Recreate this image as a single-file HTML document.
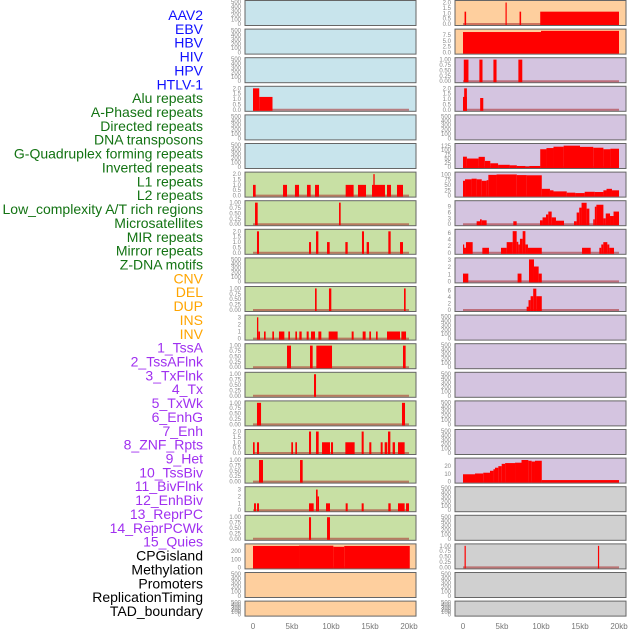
<!DOCTYPE html>
<html><head><meta charset="utf-8"><style>
html,body{margin:0;padding:0;background:#fff;}
svg{display:block;font-family:"Liberation Sans",sans-serif;}
</style></head><body>
<svg id="chart" width="630" height="630" viewBox="0 0 630 630" xmlns="http://www.w3.org/2000/svg"></svg>
<script>
// ---- labels ----
const trackLabels = ["AAV2","EBV","HBV","HIV","HPV","HTLV-1","Alu repeats","A-Phased repeats","Directed repeats","DNA transposons","G-Quadruplex forming repeats","Inverted repeats","L1 repeats","L2 repeats","Low_complexity A/T rich regions","Microsatellites","MIR repeats","Mirror repeats","Z-DNA motifs","CNV","DEL","DUP","INS","INV","1_TssA","2_TssAFlnk","3_TxFlnk","4_Tx","5_TxWk","6_EnhG","7_Enh","8_ZNF_Rpts","9_Het","10_TssBiv","11_BivFlnk","12_EnhBiv","13_ReprPC","14_ReprPCWk","15_Quies","CPGisland","Methylation","Promoters","ReplicationTiming","TAD_boundary"];
const xTickValues = [0,5,10,15,20];
const xTickLabels = ["0","5kb","10kb","15kb","20kb"];

// ---- tick sets ----
const ticksEmpty = ["0","100","200","300","400","500"];
const ticks2 = ["0.0","0.5","1.0","1.5","2.0"];
const ticks1 = ["0.00","0.25","0.50","0.75","1.00"];

// ---- series: [startKb, endKb, value] ----
const aav2Right = [[0.2,0.4,1.15],[5.45,5.6,2],[7.25,7.45,1.15],[9.9,20,1.15]];
const ebvRight = [[0,10,8.7],[10,20,9.2]];
const hbvRight = [[0.1,0.7,1],[2.1,2.5,1],[3.9,4.3,1],[7.1,7.6,1]];
const row4Left = [[0,0.8,2],[0.8,2.5,1.2]];
const row4Right = [[0,0.5,1.2],[0.15,0.5,2],[2.2,2.6,1.1]];
const row6Right = [[0,0.5,61],[0.5,2,50],[2,2.8,60],[2.8,3.5,36],[3.5,4.5,22],[4.5,6,13],[6,6.9,10],[6.9,8,6],[8,8.5,2],[8.5,9.9,6],[9.9,10.7,105],[10.7,11.6,112],[11.6,12.9,120],[12.9,15,126],[15,16.7,119],[16.7,18,114],[18,18.9,105],[18.9,20,108]];
const row7Left = [[0,0.34,1],[3.85,4.36,1],[5.38,5.9,1],[6.92,7.39,1],[7.95,8.46,1],[11.88,12.9,1],[13.46,14.49,1],[15.26,16.92,1],[15.43,15.6,2],[17.18,17.69,1],[18.46,19.23,1]];
const row7Right = [[0,0.26,70],[0.26,1.1,77],[1.1,1.75,80],[1.75,2.4,77],[2.4,3.03,70],[3.03,3.25,73],[3.25,4.3,98],[4.3,6.9,100],[6.9,8.16,97],[8.16,10.1,96],[10.1,11.15,32],[11.15,11.6,25],[11.6,13.3,20],[13.3,14.4,14],[14.4,15.6,12],[15.6,16.9,18],[16.9,18,17],[18,18.4,25],[18.4,19.1,32],[19.1,20,25]];
const row8Left = [[0.26,0.6,1],[11.03,11.24,1]];
const row8Right = [[1.75,2.18,1.5],[2.18,2.4,2.5],[2.4,3.03,2],[6.45,6.88,1.5],[9.87,10.2,2],[10.2,10.64,3.5],[10.64,10.94,5],[10.94,11.37,6.5],[11.37,11.92,3.5],[11.92,12.95,1.8],[14.23,14.57,1.5],[14.57,14.9,6],[14.9,15.2,8.5],[15.2,15.85,11],[15.85,16.2,8],[16.7,16.9,2.5],[16.9,17.1,9],[17.1,18,10],[18,18.3,3],[18.3,18.85,5.5],[18.85,19.3,4.2],[19.3,20,6.5]];
const row9Left = [[0.51,0.77,2],[7.18,7.44,1],[8.08,8.38,2],[9.49,9.83,1],[11.84,12.14,1],[13.97,14.23,2],[14.57,14.87,1],[17.35,17.65,2],[18.85,19.23,1]];
const row9Right = [[0,0.13,2.5],[0.13,0.38,1.5],[0.38,1.24,3.2],[2.48,3.33,1.5],[4.87,5.6,1.5],[5.6,6.37,3.2],[6.37,6.88,6.5],[6.88,7.09,3.3],[7.09,7.3,2.5],[7.3,7.65,4.2],[7.65,8,6.5],[8,8.33,2.5],[8.33,10.1,1.5],[15.26,16.37,1.5],[17.48,17.73,1.5],[17.73,17.99,2.5],[17.99,18.5,3.2],[18.5,18.76,2.5],[18.76,19.36,1.5]];
const row10Right = [[0,0.68,1.1],[7,7.5,1.1],[8.46,9.1,3.1],[9.1,9.7,2.1],[9.7,10.1,1.1]];
const row11Left = [[7.95,8.16,1],[9.74,10.04,1],[19.36,19.57,1]];
const row11Right = [[8.16,8.4,1],[8.4,8.67,3],[8.67,9,4.2],[9,9.4,6.5],[9.4,10.1,4.2]];
const row12Left = [[0.51,0.68,3],[0.68,0.9,1],[1.41,1.62,1],[2.48,2.69,1],[3.33,4.02,1],[4.53,4.74,1],[5.43,5.64,1],[5.94,6.24,1],[6.88,7.14,1],[7.44,7.95,1],[8.38,8.76,1],[9.7,10.85,1],[12.65,12.9,1],[14.06,14.44,1],[14.91,15.13,1],[15.77,15.98,1],[17.18,18.85,1],[19.02,19.62,1]];
const row13Left = [[4.36,4.87,1],[7.31,7.65,1],[8.12,10.13,1],[19.23,19.57,1]];
const row14Left = [[7.82,8.08,1]];
const row15Left = [[0.51,1.03,1],[19.1,19.49,1]];
const row16Left = [[0,0.21,1],[0.51,0.77,1],[4.91,5.13,1],[5.43,5.64,1],[7.18,7.44,2],[8.08,8.42,2],[8.85,9.87,1],[10,10.26,1],[11.84,13.03,1],[13.93,14.19,2],[14.91,15.17,1],[16.37,16.62,1],[16.88,17.22,1],[17.31,17.61,2],[17.9,18.2,1],[18.59,19.44,1]];
const row17Left = [[0.77,1.28,1],[6.03,6.37,1]];
const row17Right = [[0,1.54,9.5],[1.54,2.6,10.5],[2.6,3.46,11.5],[3.46,3.9,14],[3.9,4.1,16],[4.1,4.53,18],[4.53,4.96,20],[4.96,5.4,23],[5.4,6.67,24],[6.67,7.5,24.5],[7.5,8.38,28],[8.38,8.8,27],[8.8,9.23,26],[9.23,10.1,27],[10.1,20,2]];
const row18Left = [[0.13,0.38,1],[0.51,0.77,1],[7.18,7.78,1],[8.08,8.29,3],[8.29,8.46,2],[9.36,9.87,1],[11.88,12.14,1],[13.93,14.19,1],[17.35,17.65,1],[18.59,19.44,1],[19.62,20,1]];
const row19Left = [[7.18,7.44,1],[9.49,9.87,1]];
const row20Left = [[0,5.9,265],[5.9,10.3,268],[10.3,11.7,255],[11.7,20.1,265]];
const row20Right = [[0.2,0.35,1],[17.3,17.45,1]];

const BLUE="#c8e4ec", GREEN="#c8e0a4", PEACH="#fecf9e", LAV="#d4c4e0", GRAY="#d0d0d0";
const rows = [
 [BLUE,null,ticksEmpty,500, PEACH,aav2Right,ticks2,2.05],
 [BLUE,null,ticksEmpty,500, PEACH,ebvRight,["0.0","2.5","5.0","7.5"],9.3],
 [BLUE,null,ticksEmpty,500, LAV,hbvRight,ticks1,1.02],
 [BLUE,row4Left,ticks2,2.05, LAV,row4Right,ticks2,2.05],
 [BLUE,null,ticksEmpty,500, LAV,null,ticksEmpty,500],
 [BLUE,null,ticksEmpty,500, LAV,row6Right,["0","25","50","75","100","125"],130],
 [GREEN,row7Left,ticks2,2.05, LAV,row7Right,["0","25","50","75","100"],104],
 [GREEN,row8Left,ticks1,1.02, LAV,row8Right,["0","3","6","9"],11.3],
 [GREEN,row9Left,ticks2,2.05, LAV,row9Right,["0","2","4","6"],6.6],
 [GREEN,null,ticksEmpty,500, LAV,row10Right,["0","1","2","3"],3.1],
 [GREEN,row11Left,ticks1,1.02, LAV,row11Right,["0","2","4","6"],6.7],
 [GREEN,row12Left,["0","1","2","3"],3.1, LAV,null,ticksEmpty,500],
 [GREEN,row13Left,ticks1,1.02, LAV,null,ticksEmpty,500],
 [GREEN,row14Left,ticks1,1.02, LAV,null,ticksEmpty,500],
 [GREEN,row15Left,ticks1,1.02, LAV,null,ticksEmpty,500],
 [GREEN,row16Left,ticks2,2.05, LAV,null,ticksEmpty,500],
 [GREEN,row17Left,ticks1,1.02, LAV,row17Right,["0","10","20"],28.5],
 [GREEN,row18Left,["0","1","2","3"],3.2, GRAY,null,ticksEmpty,500],
 [GREEN,row19Left,ticks1,1.02, GRAY,null,ticksEmpty,500],
 [PEACH,row20Left,["0","100","200"],272, GRAY,row20Right,ticks1,1.02],
 [PEACH,null,ticksEmpty,500, GRAY,null,ticksEmpty,500],
 [PEACH,null,ticksEmpty,500, GRAY,null,ticksEmpty,500]
];

const svg = document.getElementById('chart');
const NS = "http://www.w3.org/2000/svg";
function mk(tag, attrs){ const e=document.createElementNS(NS,tag); for(const k in attrs) e.setAttribute(k,attrs[k]); svg.appendChild(e); return e; }

trackLabels.forEach((t,i)=>{
  let c = i<6 ? "#1010ff" : i<19 ? "#137313" : i<24 ? "#ffa500" : i<39 ? "#a030f0" : "#000";
  const e = mk('text',{x:203,y:(20+i*13.86).toFixed(1),'text-anchor':'end','font-size':'14',fill:c});
  e.textContent = t;
  
  
});

const cols = [{left:245,x0:253,x20:409},{left:455,x0:463,x20:619}];
const PW = 171;
function xScale(col, kb){ return col.x0 + kb*(col.x20-col.x0)/20; }

rows.forEach((r,i)=>{
  const top = i*28.6 + 0.5;
  const h = i===21 ? 15 : 25;
  [0,1].forEach(ci=>{
    const col = cols[ci];
    const bg=r[ci*4], data=r[ci*4+1], ticks=r[ci*4+2], ymax=r[ci*4+3];
    const yScale = v => top + h - 1.5 - v/ymax*(h-3);
    const p = mk('rect',{x:col.left,y:top,width:PW,height:h,fill:bg,stroke:'#666','stroke-width':1});
    
    
    ticks.forEach(tl=>{
      const v=parseFloat(tl);
      const t = mk('text',{x:col.left-4,y:(yScale(v)+2).toFixed(1),'text-anchor':'end','font-size':'6',fill:'#888'});
      t.textContent = tl;
      
      
    });
    if(data){
      const bl = mk('line',{x1:xScale(col,0),x2:xScale(col,20),y1:yScale(0),y2:yScale(0),stroke:'rgba(170,40,40,0.55)','stroke-width':2});
      
      
      data.forEach(d=>{
        const x1=xScale(col,Math.max(0,d[0])), x2=xScale(col,Math.min(20.1,d[1]));
        const y1=yScale(d[2]), y0=yScale(0)+1;
        const b = mk('rect',{x:x1.toFixed(2),y:y1.toFixed(2),width:Math.max(1.2,x2-x1).toFixed(2),height:(y0-y1).toFixed(2),fill:'#ff0000'});
        
        
      });
    }
  });
});

cols.forEach(col=>{
  xTickValues.forEach((v,j)=>{
    const t = mk('text',{x:xScale(col,v),y:629,'text-anchor':'middle','font-size':'8',fill:'#777'});
    t.textContent = xTickLabels[j];
    
    
  });
});
</script>
</body></html>
